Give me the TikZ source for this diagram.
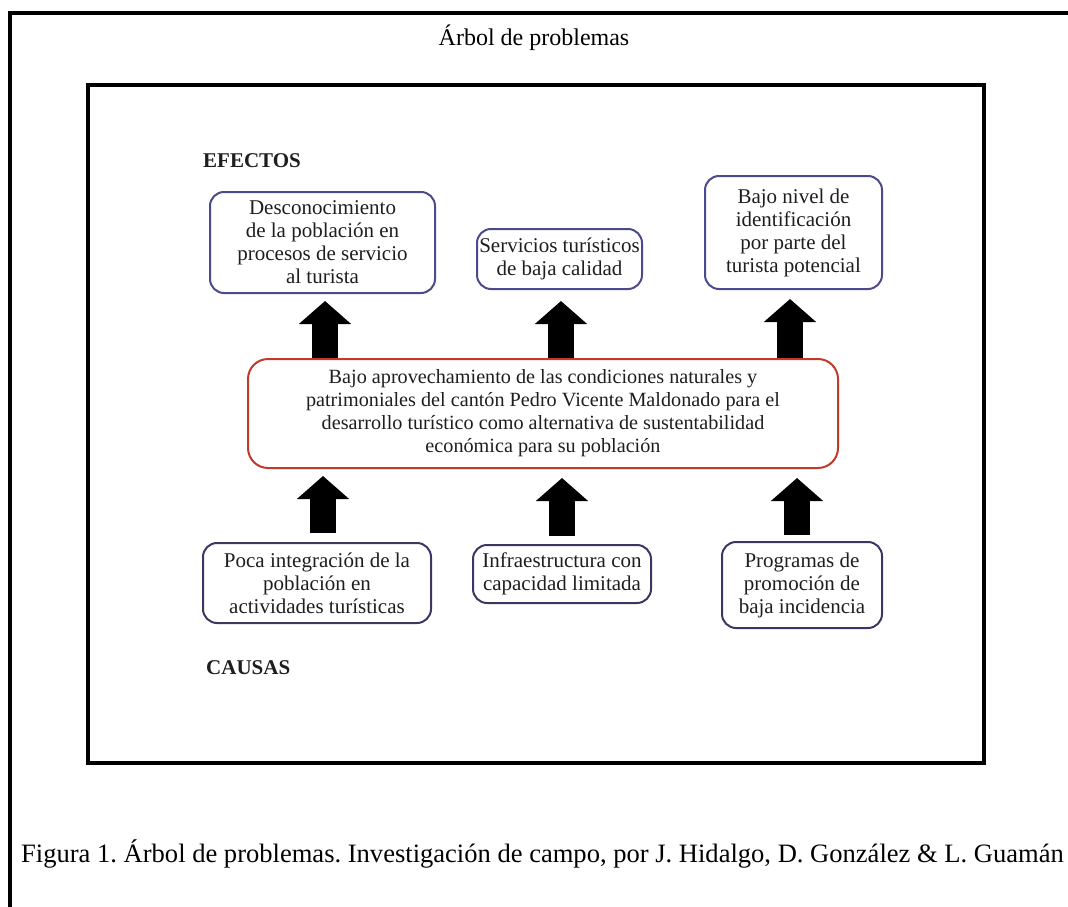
\documentclass[tikz,border=0pt]{standalone}
\usepackage{fontspec}
\setmainfont{Liberation Serif}
\frenchspacing
\usetikzlibrary{arrows.meta}
\definecolor{effline}{HTML}{4B4A8C}
\definecolor{causeline}{HTML}{3E3662}
\definecolor{coreline}{HTML}{C23A2C}
\definecolor{ink}{HTML}{1E1E1E}
\begin{document}
\begin{tikzpicture}[x=1pt,y=-1pt,
  box/.style={draw, line width=2pt, rounded corners=14pt, align=center,
    inner sep=0pt, text=ink, font=\fontsize{21}{23}\selectfont},
  effect/.style={box, draw=effline},
  cause/.style={box, draw=causeline},
  core/.style={box, draw=coreline, rounded corners=20pt,
    font=\fontsize{20.2}{23}\selectfont},
  upArrow/.style={line width=26pt, draw=black,
    -{Triangle[width=51pt,length=23pt]}},
  heading/.style={font=\fontsize{21}{24}\selectfont\bfseries, text=ink,
    inner sep=0pt, anchor=base west},
  plain/.style={font=\fontsize{24}{28}\selectfont, inner sep=0pt}
]
\useasboundingbox (0,0) rectangle (1068,907);

% page rule on the left and top
\draw[line width=4pt] (9.5,907) -- (9.5,13) -- (1068,13);
% frame round the tree
\draw[line width=4pt] (87.5,85) rectangle (984,763);

\node[plain, anchor=base] (title) at (534,46) {Árbol de problemas};

\node[heading] (efectos) at (203,167) {EFECTOS};
\node[heading] (causas) at (206,674) {CAUSAS};

% effects
\node[effect, minimum width=225, minimum height=101] (e1) at (322.5,242.5)
  {Desconocimiento\\de la población en\\procesos de servicio\\al turista};
\node[effect, minimum width=165, minimum height=60] (e2) at (559.5,259)
  {Servicios turísticos\\de baja calidad};
\node[effect, minimum width=177, minimum height=113] (e3) at (793.5,232.5)
  {Bajo nivel de\\identificación\\por parte del\\turista potencial};

% central problem
\node[core, minimum width=590, minimum height=109] (core) at (543,413.5)
  {Bajo aprovechamiento de las condiciones naturales y\\
   patrimoniales del cantón Pedro Vicente Maldonado para el\\
   desarrollo turístico como alternativa de sustentabilidad\\
   económica para su población};

% causes
\node[cause, minimum width=228, minimum height=80] (c1) at (317,583)
  {Poca integración de la\\población en\\actividades turísticas};
\node[cause, minimum width=178, minimum height=58] (c2) at (562,574)
  {Infraestructura con\\capacidad limitada};
\node[cause, minimum width=160, minimum height=86] (c3) at (802,585)
  {Programas de\\promoción de\\baja incidencia};

% arrows from the core problem up to its effects
\draw[upArrow, shorten >=7pt] (core.north -| 325,0) -- (e1.south -| 325,0);
\draw[upArrow, shorten >=11pt] (core.north -| 561,0) -- (e2.south -| 561,0);
\draw[upArrow, shorten >=9pt] (core.north -| 790,0) -- (e3.south -| 790,0);

% arrows from the causes up to the core problem
\draw[upArrow, shorten <=9pt, shorten >=7pt] (c1.north -| 323,0) -- (core.south -| 323,0);
\draw[upArrow, shorten <=8pt, shorten >=9pt] (c2.north -| 562,0) -- (core.south -| 562,0);
\draw[upArrow, shorten <=6pt, shorten >=9pt] (c3.north -| 797,0) -- (core.south -| 797,0);

\node[plain, anchor=base west, font=\fontsize{26.55}{30}\selectfont] (caption) at (21,862)
  {Figura 1. Árbol de problemas. Investigación de campo, por J. Hidalgo, D. González \& L. Guamán};
\end{tikzpicture}
\end{document}
